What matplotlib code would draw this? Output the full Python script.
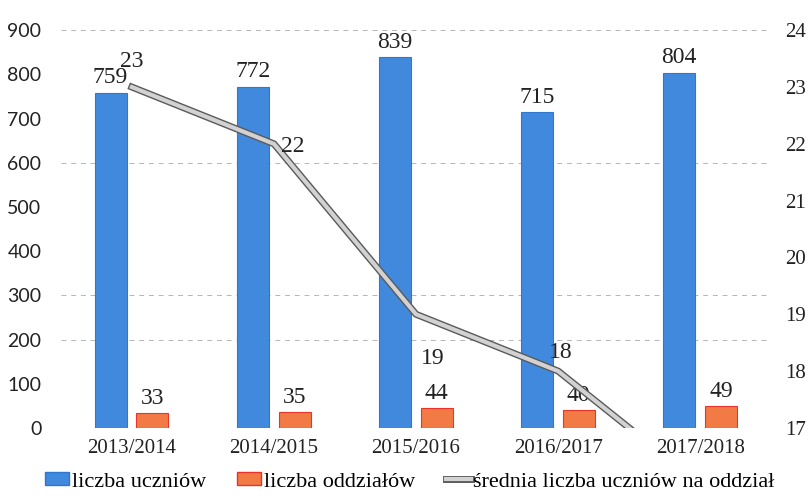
import matplotlib
matplotlib.use("Agg")
import matplotlib.pyplot as plt
import matplotlib.patheffects as pe
from matplotlib.lines import Line2D
from matplotlib.patches import Patch
import numpy as np

categories = ["2013/2014", "2014/2015", "2015/2016", "2016/2017", "2017/2018"]
uczniowie = [759, 772, 839, 715, 804]
oddzialy = [33, 35, 44, 40, 49]
srednia = [23, 22, 19, 18, 16]
srednia_labels = ["23", "22", "19", "18", ""]
grid_levels = [0, 200, 300, 600, 900]

SERIF = "Liberation Serif"
SANS = "Lato"
BLUE = "#4189dd"
ORANGE = "#f27a45"
ORANGE_EDGE = "#e8352c"

fig = plt.figure(figsize=(8.11, 5.04), dpi=100)
ax = fig.add_axes([0.075, 0.151, 0.876, 0.789])
ax2 = ax.twinx()

x = np.arange(len(categories))
w = 0.225
ax.set_zorder(ax2.get_zorder() - 1)
ax.patch.set_visible(False)

for g in grid_levels:
    ax.axhline(g, color="#b5b5b5", lw=0.7, ls=(0, (5, 5)), zorder=0)

ax.bar(x - 0.15, uczniowie, w, color=BLUE, edgecolor="#2f78d0", lw=0.8, zorder=2)
ax.bar(x + 0.145, oddzialy, w, color=ORANGE, edgecolor=ORANGE_EDGE, lw=0.8, zorder=2)

for xi, v in zip(x, uczniowie):
    ax.text(xi - 0.15, v + 10, str(v), ha="center", va="bottom", fontsize=17, family=SERIF, color="#222")
for xi, v in zip(x, oddzialy):
    ax.text(xi + 0.145, v + 10, str(v), ha="center", va="bottom", fontsize=17, family=SERIF, color="#222")

ax.set_xlim(-0.5, len(categories) - 0.5)
ax.set_ylim(0, 900)
ax.set_yticks(range(0, 901, 100))
ax.set_xticks(x)
ax.set_xticklabels(categories, fontsize=15, family=SERIF)
for lab in ax.get_yticklabels():
    lab.set_family(SANS)
    lab.set_fontsize(14)
ax.tick_params(axis="both", length=0, colors="#222")
ax.tick_params(axis="y", pad=14)
ax.tick_params(axis="x", pad=8)

line_fx = [pe.Stroke(linewidth=5, foreground="#5a5a5a"), pe.Normal()]
ax2.plot(x, srednia, color="#d2d2d2", lw=3, path_effects=line_fx, zorder=3, solid_joinstyle="miter")
ax2.set_ylim(17, 24)
ax2.set_yticks(range(17, 25))
for lab in ax2.get_yticklabels():
    lab.set_family(SERIF)
    lab.set_fontsize(15)
ax2.tick_params(axis="y", length=0, pad=10, colors="#222")

offsets = [(0.0, 0.45), (0.13, -0.05), (0.12, -0.78), (0.02, 0.33)]
for xi, v, lab, (dx, dy) in zip(x, srednia, srednia_labels, offsets):
    if lab:
        ax2.text(xi + dx, v + dy, lab, ha="center", va="center", fontsize=17, family=SERIF, color="#222")

for a in (ax, ax2):
    for s in a.spines.values():
        s.set_visible(False)

handles = [
    Patch(facecolor=BLUE, edgecolor="#2f78d0"),
    Patch(facecolor=ORANGE, edgecolor=ORANGE_EDGE),
    Line2D([0], [0], color="#d2d2d2", lw=3, path_effects=line_fx),
]
labels = ["liczba uczniów", "liczba oddziałów", "średnia liczba uczniów na oddział"]
fig.legend(handles, labels, loc="lower center", bbox_to_anchor=(0.505, -0.015), ncol=3, frameon=False,
           prop={"family": SERIF, "size": 16}, handlelength=1.1, handleheight=0.5, handletextpad=0.1,
           columnspacing=1.4)

fig.savefig("out.png", dpi=100)
